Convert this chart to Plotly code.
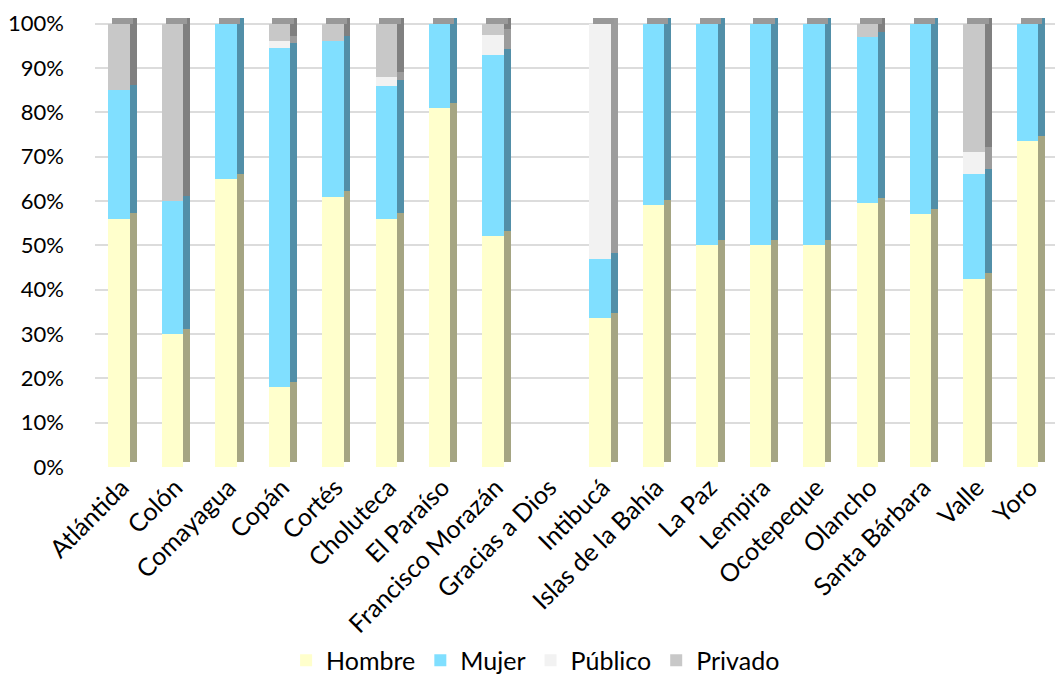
import plotly.graph_objects as go
import numpy as np

categories = ["Atlántida", "Colón", "Comayagua", "Copán", "Cortés", "Choluteca",
              "El Paraíso", "Francisco Morazán", "Gracias a Dios", "Intibucá",
              "Islas de la Bahía", "La Paz", "Lempira", "Ocotepeque", "Olancho",
              "Santa Bárbara", "Valle", "Yoro"]
hombre  = [56, 30, 65, 18, 61, 56, 81, 52, 0, 33.5, 59, 50, 50, 50, 59.5, 57, 42.5, 73.5]
mujer   = [29, 30, 35, 76.5, 35, 30, 19, 41, 0, 13.5, 41, 50, 50, 50, 37.5, 43, 23.5, 26.5]
publico = [0, 0, 0, 1.5, 0, 2, 0, 4.5, 0, 53, 0, 0, 0, 0, 0, 0, 5, 0]
privado = [15, 40, 0, 4, 4, 12, 0, 2.5, 0, 0, 0, 0, 0, 0, 3, 0, 29, 0]
series_names = ["Hombre", "Mujer", "Público", "Privado"]
y_ticks = [0, 10, 20, 30, 40, 50, 60, 70, 80, 90, 100]

front_colors = ["#FFFFCC", "#80DFFF", "#F2F2F2", "#C8C8C8"]
side_colors = ["#A5A583", "#528FA8", "#9C9C9C", "#808080"]

series = [hombre, mujer, publico, privado]
x = list(range(len(categories)))
FONT = "Lato, 'Open Sans', sans-serif"

fig = go.Figure()
base = np.zeros(len(categories))
depth = 1.2
for name, vals, fc, sc in zip(series_names, series, front_colors, side_colors):
    vals = np.array(vals, dtype=float)
    # side face (3D effect)
    fig.add_trace(go.Bar(x=x, y=vals, base=base + depth, width=0.13, offset=0.15,
                         marker=dict(color=sc, line=dict(width=0)),
                         showlegend=False, hoverinfo="skip", cliponaxis=False))
    # front face
    fig.add_trace(go.Bar(x=x, y=vals, base=base, width=0.4, offset=-0.25, name=name,
                         marker=dict(color=fc, line=dict(width=0)), cliponaxis=False))
    base = base + vals

# top caps
totals = base
has = totals > 0
fig.add_trace(go.Bar(x=[xi for xi, h in zip(x, has) if h],
                     y=[depth] * int(has.sum()),
                     base=[float(t) for t, h in zip(totals, has) if h],
                     width=0.4, offset=-0.18,
                     marker=dict(color="#999999", line=dict(width=0)),
                     showlegend=False, hoverinfo="skip", cliponaxis=False))

fig.update_layout(
    barmode="overlay",
    width=1063, height=684,
    margin=dict(l=87, r=14, t=9, b=222),
    paper_bgcolor="white", plot_bgcolor="white",
    font=dict(family=FONT, size=25, color="black"),
    legend=dict(orientation="h", x=0.458, xanchor="center", y=-0.43, yanchor="middle",
                font=dict(size=25), traceorder="normal", itemwidth=30),
    bargap=0,
)
fig.update_xaxes(tickmode="array", tickvals=x, ticktext=categories, tickangle=-45,
                 range=[-0.5, len(categories) - 0.5], showgrid=False, zeroline=False,
                 showline=False, ticks="", tickfont=dict(size=25), automargin=False)
fig.update_yaxes(range=[0, 101.5], tickvals=y_ticks, ticktext=[f"{v}%" for v in y_ticks],
                 showgrid=True, gridcolor="#DCDCDC", gridwidth=2, zeroline=False,
                 showline=False, ticks="", tickfont=dict(size=22), ticklabelstandoff=30,
                 ticklabeloverflow="allow", automargin=False)

fig.write_html("out.html")
